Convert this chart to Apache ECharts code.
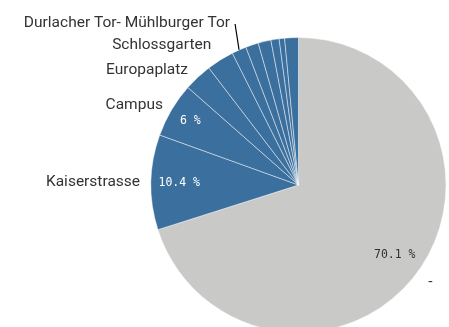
<!DOCTYPE html>
<html>
<head>
<meta charset="utf-8">
<script src="https://cdn.jsdelivr.net/npm/echarts@6/dist/echarts.min.js"></script>
<style>
  html, body { margin: 0; padding: 0; background: #fff; }
  #chart { width: 449px; height: 327px; }
</style>
</head>
<body>
<div id="chart"></div>
<script>
// Share of passengers per stop (percent), clockwise from 12 o'clock
const stops = ['-', 'Kaiserstrasse', 'Campus', 'Europaplatz', 'Schlossgarten',
  'Durlacher Tor- Mühlburger Tor', 'Haltestelle 7', 'Haltestelle 8',
  'Haltestelle 9', 'Haltestelle 10', 'Haltestelle 11'];
const shares = [70.1, 10.4, 6, 3.1, 3.0, 1.6, 1.4, 1.4, 0.9, 0.6, 1.5];
// which slices carry a name label / a percent label
const namedStops = ['-', 'Kaiserstrasse', 'Campus', 'Europaplatz', 'Schlossgarten', 'Durlacher Tor- Mühlburger Tor'];
const percentStops = ['-', 'Kaiserstrasse'];
const percentStopsOuter = ['Campus'];

const BLUE = '#3b6f9e';
const GREY = '#c9cac8';
const CENTER = [298.5, 185];
const R = 147.5;

// radial offset of each name label from the rim, and gap between line end and text
const nameOffset = {
  '-': 17,
  'Kaiserstrasse': 6,
  'Campus': 10,
  'Europaplatz': 10,
  'Schlossgarten': 17,
  'Durlacher Tor- Mühlburger Tor': 4
};
const nameGap = {
  '-': -3, 'Kaiserstrasse': 5, 'Campus': 0, 'Europaplatz': 3, 'Schlossgarten': 0,
  'Durlacher Tor- Mühlburger Tor': 4
};

const sliceData = stops.map((name, i) => {
  const named = namedStops.includes(name);
  const item = {
    name: name,
    value: shares[i],
    itemStyle: { color: i === 0 ? GREY : BLUE }
  };
  if (named) {
    item.label = {
      show: true,
      distanceToLabelLine: nameGap[name]
    };
    item.labelLine = {
      show: name === 'Durlacher Tor- Mühlburger Tor',
      length: nameOffset[name],
      length2: 0
    };
  } else {
    item.label = { show: false };
    item.labelLine = { show: false };
  }
  return item;
});

function percentData(list) {
  return stops.map((name, i) => ({
    name: name,
    value: shares[i],
    label: {
      show: list.includes(name),
      color: i === 0 ? '#333333' : '#ffffff'
    }
  }));
}

const percentLabel = {
  position: 'inside',
  fontFamily: 'DejaVu Sans Mono',
  fontSize: 11.5,
  formatter: p => p.value + ' %'
};

const chart = echarts.init(document.getElementById('chart'), null, { renderer: 'canvas' });
chart.setOption({
  animation: false,
  series: [
    {
      type: 'pie',
      center: CENTER,
      radius: [0, R],
      startAngle: 90,
      clockwise: true,
      avoidLabelOverlap: false,
      silent: true,
      itemStyle: { borderColor: 'rgba(255,255,255,0.45)', borderWidth: 1 },
      label: {
        position: 'outside',
        color: '#333333',
        fontFamily: 'Roboto',
        fontSize: 15.5,
        formatter: '{b}'
      },
      labelLine: { lineStyle: { color: '#000000', width: 1.2 }, smooth: false },
      labelLayout: function (params) {
        if (params.dataIndex === 5 && params.labelLinePoints) {
          const start = params.labelLinePoints[0];
          const end = [start[0] - 4, start[1] - 26];
          return {
            x: end[0] - 5,
            y: end[1] - 1,
            align: 'right',
            verticalAlign: 'middle',
            labelLinePoints: [start, end, end]
          };
        }
        return {};
      },
      emphasis: { disabled: true },
      data: sliceData
    },
    {
      type: 'pie',
      center: CENTER,
      radius: [85, R],
      startAngle: 90,
      clockwise: true,
      silent: true,
      avoidLabelOverlap: false,
      itemStyle: { color: 'rgba(0,0,0,0)' },
      label: percentLabel,
      labelLine: { show: false },
      emphasis: { disabled: true },
      data: percentData(percentStops)
    },
    {
      type: 'pie',
      center: CENTER,
      radius: [98, R],
      startAngle: 90,
      clockwise: true,
      silent: true,
      avoidLabelOverlap: false,
      itemStyle: { color: 'rgba(0,0,0,0)' },
      label: percentLabel,
      labelLine: { show: false },
      emphasis: { disabled: true },
      data: percentData(percentStopsOuter)
    }
  ]
});
</script>
</body>
</html>
